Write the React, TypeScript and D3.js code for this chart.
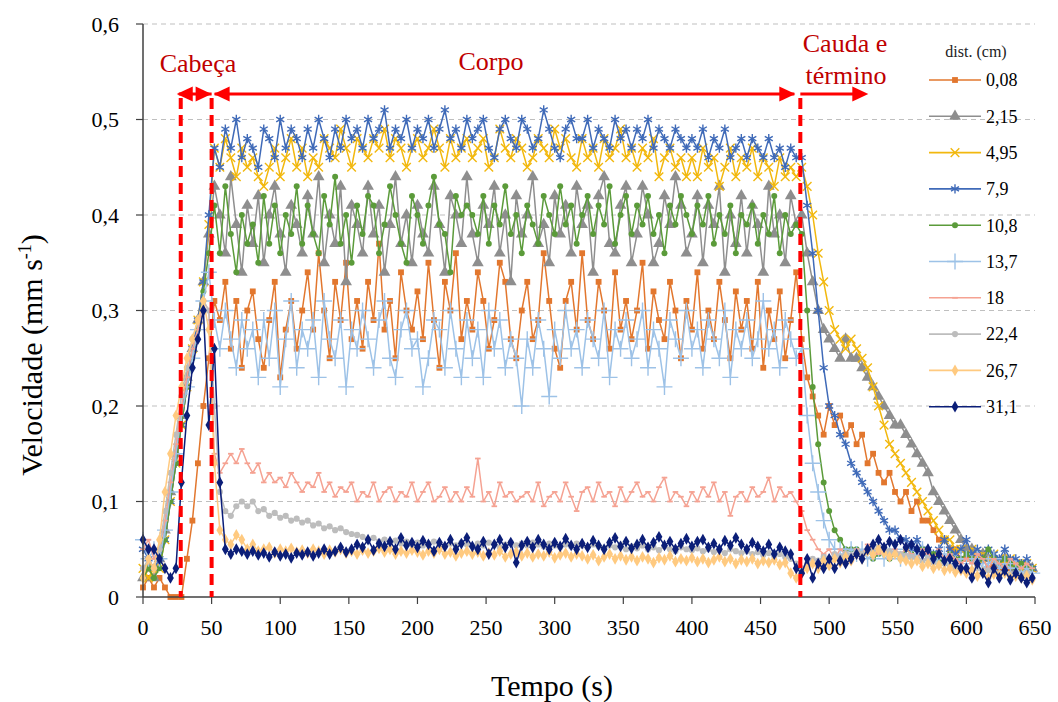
import React from 'react';
import * as d3 from 'd3';

const TIME_STEP = 4;
const xTicks = [0,50,100,150,200,250,300,350,400,450,500,550,600,650];
const yTicks = [0,.1,.2,.3,.4,.5,.6];
const distLabels = ['0,08','2,15','4,95','7,9','10,8','13,7','18','22,4','26,7','31,1'];

const v008 = [.01,.02,.01,.02,.01,0,0,0,.04,.08,.14,.2,.25,.31,.29,.33,.26,.31,.24,.3,
.32,.27,.24,.29,.33,.23,.28,.31,.26,.3,.34,.28,.36,.3,.25,.33,.29,.35,.27,.31,
.26,.33,.29,.37,.28,.31,.25,.34,.3,.28,.32,.27,.35,.29,.24,.33,.3,.36,.27,.31,
.28,.34,.31,.26,.29,.35,.33,.27,.25,.3,.33,.27,.29,.36,.31,.26,.24,.31,.33,.28,
.36,.29,.27,.33,.3,.26,.34,.28,.31,.27,.3,.35,.26,.32,.29,.27,.33,.3,.25,.31,
.28,.34,.26,.3,.27,.33,.29,.25,.32,.28,.31,.26,.33,.24,.3,.27,.32,.25,.29,.34,
.27,.23,.21,.19,.17,.2,.18,.19,.17,.18,.16,.17,.14,.15,.13,.12,.13,.11,.1,.11,
.09,.1,.08,.08,.07,.06,.06,.05,.05,.04,.04,.04,.035,.04,.03,.035,.03,.03,.03,.03,.03,.025,.03];

const v215 = [.02,.03,.02,.04,.07,.11,.15,.19,.23,.26,.29,.33,.38,.43,.4,.36,.44,.39,.34,.41,
.37,.42,.35,.4,.43,.38,.34,.41,.39,.36,.42,.38,.44,.35,.4,.37,.43,.33,.41,.39,
.36,.43,.38,.41,.34,.39,.44,.37,.4,.35,.41,.38,.36,.43,.39,.34,.42,.4,.37,.44,
.38,.35,.41,.39,.43,.36,.4,.33,.42,.38,.4,.44,.37,.39,.35,.42,.38,.41,.36,.43,
.39,.41,.34,.42,.44,.37,.36,.41,.43,.35,.38,.43,.4,.35,.37,.42,.39,.44,.41,.36,
.38,.42,.35,.41,.39,.43,.34,.4,.37,.42,.36,.41,.39,.34,.43,.38,.4,.35,.42,.39,
.4,.36,.33,.3,.28,.27,.26,.25,.27,.25,.25,.24,.23,.22,.21,.2,.19,.18,.18,.17,
.16,.15,.14,.13,.11,.1,.09,.08,.07,.06,.05,.05,.04,.045,.04,.04,.035,.04,.035,.03,.03,.035,.03];

const v495 = [.03,.02,.03,.03,.06,.1,.14,.18,.22,.26,.29,.33,.39,.47,.45,.48,.46,.44,.47,.45,
.46,.44,.43,.45,.47,.44,.46,.48,.45,.47,.44,.46,.45,.48,.47,.46,.49,.47,.45,.48,
.47,.46,.48,.47,.49,.46,.48,.47,.45,.47,.48,.46,.47,.49,.47,.45,.48,.46,.47,.48,
.46,.47,.48,.45,.46,.49,.47,.46,.48,.47,.45,.46,.48,.47,.46,.49,.47,.48,.46,.45,
.48,.46,.47,.45,.48,.46,.47,.49,.46,.47,.45,.47,.46,.48,.44,.46,.47,.45,.46,.44,
.46,.44,.47,.45,.46,.43,.45,.47,.44,.46,.45,.47,.44,.46,.45,.43,.46,.44,.45,.44,
.45,.43,.4,.36,.33,.3,.28,.27,.26,.27,.26,.25,.24,.22,.2,.18,.16,.15,.14,.13,
.12,.11,.1,.09,.08,.07,.06,.06,.05,.05,.045,.05,.04,.045,.04,.045,.04,.035,.04,.035,.03,.035,.03];

const v79 = [.05,.04,.03,.04,.06,.1,.14,.18,.22,.26,.29,.33,.4,.47,.45,.49,.47,.5,.46,.48,
.47,.45,.49,.48,.46,.5,.47,.49,.48,.46,.49,.47,.5,.48,.46,.49,.47,.5,.48,.49,
.47,.5,.48,.49,.51,.47,.49,.48,.5,.47,.49,.48,.5,.47,.49,.51,.48,.49,.47,.5,
.48,.49,.5,.47,.46,.49,.5,.48,.47,.5,.49,.47,.48,.51,.49,.47,.46,.49,.5,.48,
.48,.5,.47,.49,.48,.47,.5,.48,.49,.47,.49,.48,.5,.47,.49,.48,.47,.49,.48,.47,
.48,.47,.49,.46,.48,.47,.49,.46,.47,.48,.46,.48,.47,.46,.48,.46,.47,.45,.47,.46,
.46,.41,.36,.3,.24,.2,.19,.17,.16,.14,.13,.12,.11,.1,.09,.08,.07,.07,.06,.06,
.05,.06,.05,.05,.045,.05,.06,.05,.045,.05,.06,.045,.05,.04,.05,.045,.04,.05,.04,.04,.035,.04,.03];

const v108 = [.02,.03,.02,.03,.06,.1,.14,.18,.22,.25,.28,.32,.36,.41,.36,.43,.38,.34,.4,.37,
.39,.35,.42,.37,.41,.36,.4,.38,.43,.37,.41,.38,.36,.42,.39,.44,.37,.4,.35,.41,
.38,.42,.41,.36,.39,.43,.4,.37,.35,.42,.4,.37,.41,.44,.39,.38,.34,.42,.4,.41,
.4,.38,.42,.37,.41,.39,.43,.38,.4,.36,.41,.39,.37,.42,.4,.38,.43,.39,.41,.37,
.4,.42,.38,.41,.39,.43,.37,.4,.42,.38,.41,.39,.42,.38,.4,.36,.41,.39,.42,.4,
.38,.41,.39,.42,.37,.4,.38,.41,.36,.4,.39,.41,.37,.4,.38,.42,.36,.4,.38,.39,
.38,.3,.22,.16,.12,.09,.07,.06,.05,.05,.05,.045,.05,.04,.045,.05,.04,.045,.04,.05,
.045,.04,.05,.04,.045,.04,.035,.045,.04,.04,.045,.04,.035,.04,.05,.04,.035,.04,.035,.03,.035,.03,.03];

const v137 = [.06,.04,.05,.04,.07,.11,.15,.19,.22,.25,.28,.31,.34,.29,.26,.3,.27,.24,.29,.26,
.28,.23,.29,.25,.3,.22,.27,.31,.24,.28,.26,.29,.23,.31,.27,.25,.29,.22,.28,.26,
.3,.27,.24,.29,.31,.25,.23,.28,.3,.26,.27,.22,.25,.29,.28,.24,.3,.26,.23,.29,
.25,.28,.23,.3,.26,.29,.24,.27,.25,.2,.27,.24,.29,.26,.21,.28,.25,.3,.26,.28,
.24,.29,.27,.25,.3,.23,.28,.26,.29,.25,.27,.3,.24,.28,.26,.22,.29,.27,.25,.3,
.26,.28,.24,.29,.27,.25,.3,.23,.28,.26,.29,.25,.27,.31,.26,.28,.24,.29,.27,.25,
.26,.19,.14,.11,.08,.06,.05,.05,.045,.05,.045,.05,.04,.045,.05,.04,.045,.05,.04,.045,
.04,.045,.05,.04,.035,.04,.045,.04,.035,.04,.04,.035,.04,.03,.035,.04,.03,.035,.03,.03,.025,.03,.025];

const v18 = [.05,.06,.04,.05,.08,.12,.16,.2,.23,.26,.28,.31,.3,.15,.13,.14,.15,.14,.155,.14,
.13,.14,.12,.13,.12,.125,.115,.13,.12,.11,.12,.115,.13,.11,.12,.105,.115,.11,.12,.1,
.11,.105,.12,.1,.11,.115,.1,.11,.105,.12,.1,.11,.12,.1,.105,.115,.1,.11,.1,.115,
.105,.145,.1,.11,.095,.12,.105,.11,.1,.105,.11,.1,.12,.095,.105,.11,.1,.12,.105,.09,
.11,.115,.1,.12,.105,.11,.095,.115,.1,.11,.12,.105,.11,.1,.115,.125,.1,.11,.105,.095,
.11,.1,.115,.105,.12,.1,.11,.085,.105,.11,.1,.115,.105,.11,.125,.1,.115,.105,.11,.1,
.09,.07,.06,.05,.045,.05,.04,.05,.045,.04,.05,.045,.055,.05,.045,.05,.04,.05,.045,.05,
.045,.04,.05,.045,.04,.05,.04,.045,.04,.035,.04,.035,.045,.04,.03,.04,.035,.03,.04,.035,.03,.035,.03];

const v224 = [.03,.04,.03,.05,.09,.13,.17,.21,.24,.27,.29,.31,.3,.2,.11,.09,.085,.095,.1,.095,
.1,.09,.092,.085,.088,.083,.085,.08,.082,.078,.08,.075,.077,.072,.074,.07,.072,.068,.066,.065,
.063,.06,.062,.058,.06,.057,.059,.056,.058,.055,.057,.054,.056,.058,.055,.053,.056,.054,.057,.055,
.053,.056,.054,.057,.055,.052,.055,.057,.054,.056,.054,.057,.055,.053,.056,.054,.052,.055,.053,.056,
.054,.052,.055,.053,.051,.054,.052,.055,.05,.053,.051,.054,.05,.052,.049,.053,.05,.048,.052,.05,
.049,.051,.048,.05,.047,.049,.046,.05,.048,.046,.048,.045,.047,.044,.046,.043,.045,.042,.04,.035,
.03,.035,.04,.038,.042,.04,.045,.042,.046,.044,.047,.045,.05,.048,.052,.05,.048,.046,.045,.043,
.042,.04,.038,.04,.036,.034,.035,.032,.03,.028,.03,.028,.03,.025,.028,.026,.025,.027,.024,.025,.022,.025,.02];

const v267 = [.02,.04,.03,.06,.11,.15,.19,.22,.25,.27,.29,.31,.28,.14,.07,.06,.055,.065,.06,.05,
.055,.048,.05,.052,.046,.05,.048,.051,.047,.049,.046,.05,.048,.045,.049,.047,.05,.046,.048,.045,
.049,.046,.048,.051,.047,.05,.045,.048,.046,.049,.047,.044,.048,.046,.05,.045,.047,.043,.046,.048,
.045,.047,.043,.046,.044,.048,.042,.045,.047,.043,.046,.042,.045,.043,.047,.041,.044,.046,.042,.045,
.043,.04,.044,.038,.042,.045,.04,.043,.039,.042,.038,.042,.04,.036,.041,.039,.043,.037,.04,.038,
.041,.037,.04,.036,.039,.042,.037,.04,.035,.039,.037,.04,.035,.038,.036,.039,.034,.036,.025,.02,
.025,.03,.035,.03,.038,.033,.04,.036,.042,.038,.045,.04,.048,.044,.05,.046,.042,.045,.04,.038,
.035,.038,.032,.035,.03,.033,.028,.03,.026,.028,.025,.028,.022,.026,.02,.024,.022,.025,.02,.022,.02,.022,.018];

const v311 = [.06,.05,.05,.04,.03,.02,.03,.12,.19,.24,.27,.3,.18,.26,.12,.05,.045,.05,.048,.045,
.048,.044,.046,.042,.047,.043,.045,.041,.046,.044,.047,.043,.046,.05,.045,.048,.052,.047,.05,.055,
.052,.06,.049,.056,.053,.058,.05,.062,.054,.057,.052,.059,.055,.048,.057,.053,.06,.05,.056,.062,
.053,.05,.058,.045,.055,.06,.052,.057,.036,.054,.058,.052,.06,.055,.05,.057,.053,.061,.054,.05,
.056,.052,.059,.054,.05,.057,.062,.053,.058,.051,.055,.06,.052,.057,.063,.054,.058,.05,.056,.061,
.053,.058,.06,.052,.056,.05,.059,.054,.062,.055,.05,.057,.053,.048,.055,.045,.052,.048,.045,.03,
.025,.04,.02,.035,.03,.04,.03,.038,.035,.04,.045,.04,.05,.055,.06,.052,.058,.055,.06,.052,
.055,.05,.045,.05,.04,.045,.038,.04,.035,.03,.03,.02,.035,.025,.015,.03,.02,.028,.018,.025,.02,.015,.02];

const seriesValues = [v008,v215,v495,v79,v108,v137,v18,v224,v267,v311];
const seriesColors = ['#E2772E','#8E8E8E','#F2B80E','#3F6AB8','#5B9B3A','#9DC2E7','#F5A292','#BDBDBD','#FFCA80','#0B1E78'];
const seriesMarkers = ['square','triangle','times','asterisk','circle','plus','dash','dot','diamond','diamond'];
const phaseLines = [27.5,50,479];

const xScale = d3.scaleLinear().domain([0,650]).range([143,1035]);
const yScale = d3.scaleLinear().domain([0,.6]).range([597,24]);
const SERIF = 'Liberation Serif';
const RED = '#FF0000';

function sym(kind: string): [string, boolean, number] {
  switch (kind) {
    case 'square': return [d3.symbol(d3.symbolSquare,34)()!, false, 0];
    case 'triangle': return [d3.symbol(d3.symbolTriangle,60)()!, false, 0];
    case 'times': return [d3.symbol(d3.symbolTimes,50)()!, true, 1.4];
    case 'asterisk': return [d3.symbol(d3.symbolAsterisk,60)()!, true, 1.4];
    case 'circle': return [d3.symbol(d3.symbolCircle,28)()!, false, 0];
    case 'plus': return [d3.symbol(d3.symbolPlus,85)()!, true, 1.4];
    case 'dash': return ['M-2.8,0H2.8', true, 1.8];
    case 'dot': return [d3.symbol(d3.symbolCircle,30)()!, false, 0];
    default: return [d3.symbol(d3.symbolDiamond,40)()!, false, 0];
  }
}

function Mk({ kind, color, x, y }: any) {
  const [d, st, sw] = sym(kind);
  return <path d={d} transform={`translate(${x},${y})`} fill={st ? 'none' : color} stroke={st ? color : 'none'} strokeWidth={sw} />;
}

function Head({ tip, y, dir }: any) {
  const b = tip - dir * 16;
  return <polygon points={`${tip},${y} ${b},${y - 7.5} ${b},${y + 7.5}`} fill={RED} />;
}

export default function App() {
  const line = d3.line<number>().x((_, i) => xScale(i * TIME_STEP)).y((v) => yScale(v));
  const ay = 94, xa = xScale(phaseLines[0]), xb = xScale(phaseLines[1]), xc = xScale(phaseLines[2]);
  return (
    <svg width={1058} height={702} style={{ position: 'absolute', left: 0, top: 0, background: '#fff' }}>
      {yTicks.slice(1).map((t) => (
        <line key={'g' + t} x1={xScale(0)} x2={xScale(650)} y1={yScale(t)} y2={yScale(t)} stroke="#BFBFBF" strokeDasharray="5,4" />
      ))}
      {seriesValues.map((vals, si) => (
        <g key={'s' + si}>
          <path d={line(vals)!} fill="none" stroke={seriesColors[si]} strokeWidth={1.5} strokeLinejoin="round" />
          {vals.map((v, i) => <Mk key={i} kind={seriesMarkers[si]} color={seriesColors[si]} x={xScale(i * TIME_STEP)} y={yScale(v)} />)}
        </g>
      ))}
      <line x1={143} x2={143} y1={yScale(.6)} y2={yScale(0)} stroke="#404040" strokeWidth={1.5} />
      <line x1={143} x2={xScale(650)} y1={yScale(0)} y2={yScale(0)} stroke="#404040" strokeWidth={1.5} />
      {yTicks.map((t) => (
        <g key={'yt' + t}>
          <line x1={136} x2={143} y1={yScale(t)} y2={yScale(t)} stroke="#404040" strokeWidth={1.2} />
          <text fontFamily={SERIF} x={119} y={yScale(t)} dy="0.35em" textAnchor="end" fontSize={22}>{String(t).replace('.', ',')}</text>
        </g>
      ))}
      {xTicks.map((t) => (
        <g key={'xt' + t}>
          <line x1={xScale(t)} x2={xScale(t)} y1={597} y2={604} stroke="#404040" strokeWidth={1.2} />
          <text fontFamily={SERIF} x={xScale(t)} y={635} textAnchor="middle" fontSize={22}>{t}</text>
        </g>
      ))}
      <text fontFamily={SERIF} x={552} y={696} textAnchor="middle" fontSize={30}>Tempo (s)</text>
      <text fontFamily={SERIF} transform="translate(42,355) rotate(-90)" textAnchor="middle" fontSize={30}>
        Velocidade (mm s<tspan dy="-11" fontSize={18}>-1</tspan><tspan dy="11">)</tspan>
      </text>
      {phaseLines.map((p, i) => (
        <line key={'pl' + i} x1={xScale(p)} x2={xScale(p)} y1={98} y2={597} stroke={RED} strokeWidth={4} strokeDasharray="11,6" />
      ))}
      <line x1={xa - 2} x2={xb} y1={ay} y2={ay} stroke={RED} strokeWidth={3} />
      <Head tip={xa - 4} y={ay} dir={-1} />
      <Head tip={xb} y={ay} dir={1} />
      <line x1={xb + 3} x2={xc - 6} y1={ay} y2={ay} stroke={RED} strokeWidth={3} />
      <Head tip={xb + 2} y={ay} dir={-1} />
      <Head tip={xc - 5} y={ay} dir={1} />
      <line x1={xc} x2={xc + 60} y1={ay} y2={ay} stroke={RED} strokeWidth={3} />
      <Head tip={xc + 68} y={ay} dir={1} />
      <text fontFamily={SERIF} x={198} y={72} textAnchor="middle" fontSize={26} fill="#C00000">Cabeça</text>
      <text fontFamily={SERIF} x={491} y={70} textAnchor="middle" fontSize={26} fill="#C00000">Corpo</text>
      <text fontFamily={SERIF} x={845} y={52} textAnchor="middle" fontSize={26} fill="#C00000">Cauda e</text>
      <text fontFamily={SERIF} x={846} y={84} textAnchor="middle" fontSize={26} fill="#C00000">término</text>
      <text fontFamily={SERIF} x={976} y={57} textAnchor="middle" fontSize={16} fill="#222">dist. (cm)</text>
      {distLabels.map((lab, i) => {
        const ly = 80 + i * 36.3;
        return (
          <g key={'lg' + i}>
            <line x1={929} x2={981} y1={ly} y2={ly} stroke={seriesColors[i]} strokeWidth={1.6} />
            <Mk kind={seriesMarkers[i]} color={seriesColors[i]} x={955} y={ly} />
            <text fontFamily={SERIF} x={986} y={ly} dy="0.35em" fontSize={18}>{lab}</text>
          </g>
        );
      })}
    </svg>
  );
}
